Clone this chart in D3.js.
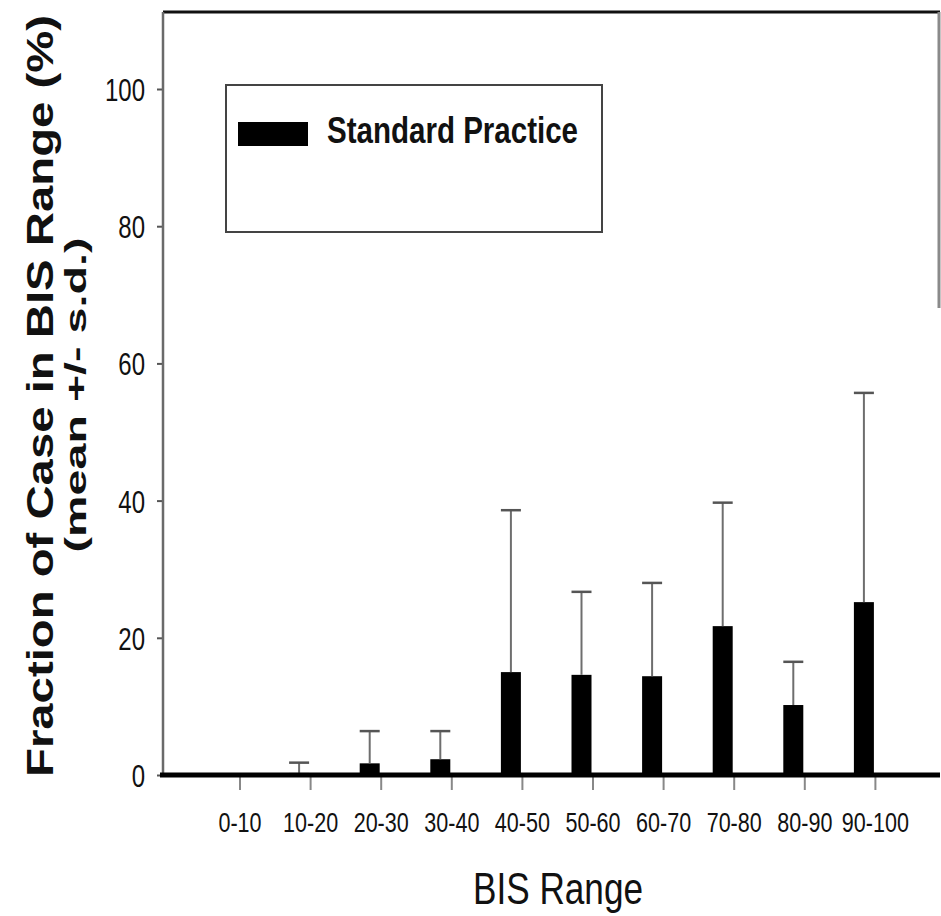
<!DOCTYPE html>
<html>
<head>
<meta charset="utf-8">
<script src="https://cdn.jsdelivr.net/npm/d3@7/dist/d3.min.js"></script>
<style>
  html, body { margin: 0; padding: 0; background: #fff; }
  svg { display: block; font-family: "Liberation Sans", Arial, sans-serif; }
</style>
</head>
<body>
<svg id="chart" width="941" height="916"></svg>
<script>
const bisRanges = ["0-10", "10-20", "20-30", "30-40", "40-50", "50-60", "60-70", "70-80", "80-90", "90-100"];
const meanFraction = [0.1, 0.3, 1.7, 2.3, 15.0, 14.6, 14.4, 21.7, 10.2, 25.2];
const sdFraction = [0, 1.5, 4.7, 4.1, 23.6, 12.1, 13.6, 18.0, 6.3, 30.5];
const yTickValues = [0, 20, 40, 60, 80, 100];
const seriesLabel = "Standard Practice";
const xAxisTitle = "BIS Range";
const yAxisTitle = "Fraction of Case in BIS Range (%)";
const yAxisSubtitle = "(mean +/- s.d.)";

const FRAME = { left: 163, right: 940, top: 12, bottom: 775 };
const BAR_WIDTH = 20;

const svg = d3.select("#chart");

const x = d3.scaleBand().domain(bisRanges).range([204.7, 910.7]).paddingInner(0);
const y = d3.scaleLinear().domain([0, 100]).range([775, 89]);

// squeeze text horizontally so it matches the narrow scanned lettering
function squash(selection, factor) {
  selection.each(function () {
    const width = this.getComputedTextLength();
    d3.select(this).attr("textLength", width * factor).attr("lengthAdjust", "spacingAndGlyphs");
  });
}

// frame: top and partial right border
svg.append("line")
  .attr("x1", FRAME.left).attr("x2", FRAME.right)
  .attr("y1", FRAME.top).attr("y2", FRAME.top)
  .attr("stroke", "#111").attr("stroke-width", 3);

svg.append("line")
  .attr("x1", FRAME.right - 1).attr("x2", FRAME.right - 1)
  .attr("y1", FRAME.top).attr("y2", 308)
  .attr("stroke", "#8a8a8a").attr("stroke-width", 3);

// y axis
const yAxis = svg.append("g")
  .attr("transform", `translate(${FRAME.left},0)`)
  .call(d3.axisLeft(y).tickValues(yTickValues).tickSize(6).tickPadding(12));
yAxis.select(".domain").remove();
yAxis.selectAll(".tick line").attr("stroke", "#555").attr("stroke-width", 2);
yAxis.selectAll(".tick text")
  .attr("fill", "#111")
  .attr("font-size", 32)
  .attr("font-family", "'Liberation Sans', Arial, sans-serif")
  .attr("dy", "0.36em")
  .call(squash, 0.75);

svg.append("line")
  .attr("x1", FRAME.left).attr("x2", FRAME.left)
  .attr("y1", FRAME.top).attr("y2", FRAME.bottom + 2)
  .attr("stroke", "#6a6a6a").attr("stroke-width", 2.5);

// x axis
const xAxis = svg.append("g")
  .attr("transform", `translate(0,${FRAME.bottom})`)
  .call(d3.axisBottom(x).tickSize(15).tickSizeOuter(0));
xAxis.select(".domain").remove();
xAxis.selectAll(".tick line").attr("stroke", "#888").attr("stroke-width", 2);
xAxis.selectAll(".tick text")
  .attr("fill", "#111")
  .attr("font-size", 28)
  .attr("font-family", "'Liberation Sans', Arial, sans-serif")
  .attr("y", 57)
  .attr("dy", null)
  .call(squash, 0.77);

// bars
const barData = bisRanges.map((range, i) => ({ range, mean: meanFraction[i], sd: sdFraction[i] }));
const barX = (d) => x(d.range) + x.bandwidth() / 2 - BAR_WIDTH - 1.5;

svg.append("g")
  .selectAll("rect")
  .data(barData)
  .join("rect")
  .attr("x", barX)
  .attr("y", (d) => y(d.mean))
  .attr("width", BAR_WIDTH)
  .attr("height", (d) => y(0) - y(d.mean))
  .attr("fill", "#000");

// upper error bars (mean + s.d.)
const errorGroup = svg.append("g").attr("stroke", "#6e6e6e");
const withSd = barData.filter((d) => d.sd > 0);
errorGroup.selectAll("line.stem")
  .data(withSd)
  .join("line")
  .attr("class", "stem")
  .attr("x1", (d) => barX(d) + BAR_WIDTH / 2)
  .attr("x2", (d) => barX(d) + BAR_WIDTH / 2)
  .attr("y1", (d) => y(d.mean))
  .attr("y2", (d) => y(d.mean + d.sd))
  .attr("stroke-width", 2);
errorGroup.selectAll("line.cap")
  .data(withSd)
  .join("line")
  .attr("class", "cap")
  .attr("x1", (d) => barX(d))
  .attr("x2", (d) => barX(d) + BAR_WIDTH)
  .attr("y1", (d) => y(d.mean + d.sd))
  .attr("y2", (d) => y(d.mean + d.sd))
  .attr("stroke", "#555")
  .attr("stroke-width", 2.5);

// baseline drawn last so it sits over the bar feet
svg.append("line")
  .attr("x1", FRAME.left - 3).attr("x2", FRAME.right)
  .attr("y1", FRAME.bottom).attr("y2", FRAME.bottom)
  .attr("stroke", "#000").attr("stroke-width", 5);

// legend
const legend = svg.append("g");
legend.append("rect")
  .attr("x", 226).attr("y", 85)
  .attr("width", 376).attr("height", 147)
  .attr("fill", "#fff")
  .attr("stroke", "#444").attr("stroke-width", 2);
legend.append("rect")
  .attr("x", 238).attr("y", 122)
  .attr("width", 70).attr("height", 24)
  .attr("fill", "#000");
legend.append("text")
  .attr("x", 327).attr("y", 143)
  .attr("font-size", 36)
  .attr("font-weight", "bold")
  .attr("fill", "#111")
  .attr("textLength", 251)
  .attr("lengthAdjust", "spacingAndGlyphs")
  .text(seriesLabel);

// axis titles
svg.append("text")
  .attr("x", 558).attr("y", 904)
  .attr("text-anchor", "middle")
  .attr("font-size", 44)
  .attr("fill", "#111")
  .attr("textLength", 170)
  .attr("lengthAdjust", "spacingAndGlyphs")
  .text(xAxisTitle);

svg.append("text")
  .attr("transform", "translate(53,396) rotate(-90)")
  .attr("text-anchor", "middle")
  .attr("font-size", 36)
  .attr("font-weight", "bold")
  .attr("fill", "#111")
  .attr("textLength", 762)
  .attr("lengthAdjust", "spacingAndGlyphs")
  .text(yAxisTitle);

svg.append("text")
  .attr("transform", "translate(86,395) rotate(-90)")
  .attr("text-anchor", "middle")
  .attr("font-size", 30)
  .attr("font-weight", "bold")
  .attr("fill", "#111")
  .attr("textLength", 315)
  .attr("lengthAdjust", "spacingAndGlyphs")
  .text(yAxisSubtitle);
</script>
</body>
</html>
